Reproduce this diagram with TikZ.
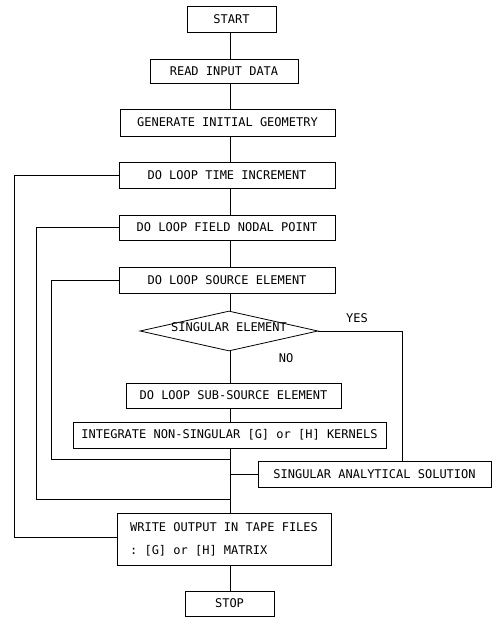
\documentclass[tikz,border=0pt]{standalone}
\usepackage{fontspec}
\setmonofont{DejaVu Sans Mono}
\usetikzlibrary{shapes.geometric}
\begin{document}
\begin{tikzpicture}[x=1pt,y=-1pt,
  every node/.style={font=\ttfamily\fontsize{12}{23}\selectfont, inner sep=0pt},
  box/.style={draw, line width=0.8pt, rectangle},
  dec/.style={draw, line width=0.8pt, diamond, aspect=4.45},
  conn/.style={line width=0.8pt},
  lbl/.style={}]
\useasboundingbox (0,0) rectangle (496,618);
\node[box, minimum width=89pt, minimum height=26pt] (start) at (231.5,19) {START};
\node[box, minimum width=148pt, minimum height=24pt] (read) at (224,71) {READ INPUT DATA};
\node[box, minimum width=215pt, minimum height=27pt] (gen) at (227.5,122.5) {GENERATE INITIAL GEOMETRY};
\node[box, minimum width=216pt, minimum height=26pt] (time) at (227,175) {DO LOOP TIME INCREMENT};
\node[box, minimum width=216pt, minimum height=25pt] (field) at (227,227.5) {DO LOOP FIELD NODAL POINT};
\node[box, minimum width=216pt, minimum height=26pt] (source) at (227,280) {DO LOOP SOURCE ELEMENT};
\node[dec, minimum width=178pt, minimum height=40pt] (sing) at (229,331) {};
\node (singt) at (229,327) {SINGULAR ELEMENT};
\node[box, minimum width=215pt, minimum height=25pt] (sub) at (233.5,395.5) {DO LOOP SUB-SOURCE ELEMENT};
\node[box, minimum width=313pt, minimum height=26pt] (integ) at (229.5,435) {INTEGRATE NON-SINGULAR [G] or [H] KERNELS};
\node[box, minimum width=233pt, minimum height=26pt] (sas) at (374.5,474) {SINGULAR ANALYTICAL SOLUTION};
\node[box, minimum width=214pt, minimum height=52pt, align=left] (write) at (224,539) {WRITE OUTPUT IN TAPE FILES\\ : [G] or [H] MATRIX};
\node[box, minimum width=89pt, minimum height=25pt] (stop) at (229.5,603.5) {STOP};
\node[lbl] (yes) at (357,318) {YES};
\node[lbl] (no) at (286,358) {NO};
\coordinate (m) at (230,0);
\coordinate (j1) at (230,459);
\coordinate (j2) at (230,474);
\coordinate (j3) at (230,499);
\coordinate (yr) at (402,331);
\draw[conn] (start.south -| m) -- (read.north -| m);
\draw[conn] (read.south -| m) -- (gen.north -| m);
\draw[conn] (gen.south -| m) -- (time.north -| m);
\draw[conn] (time.south -| m) -- (field.north -| m);
\draw[conn] (field.south -| m) -- (source.north -| m);
\draw[conn] (source.south -| m) -- (sing.north -| m);
\draw[conn] (sing.south -| m) -- (sub.north -| m);
\draw[conn] (sub.south -| m) -- (integ.north -| m);
\draw[conn] (integ.south -| m) -- (write.north -| m);
\draw[conn] (write.south -| m) -- (stop.north -| m);
\draw[conn] (sing.east) -- (yr) -- (yr |- sas.north);
\draw[conn] (sas.west) -- (j2);
\draw[conn] (source.west) -- (51,280) -- (51,459) -- (j1);
\draw[conn] (field.west) -- (36,227.5) -- (36,499) -- (j3);
\draw[conn] (time.west) -- (14,175) -- (14,537) -- (write.west |- 0,537);
\end{tikzpicture}
\end{document}
